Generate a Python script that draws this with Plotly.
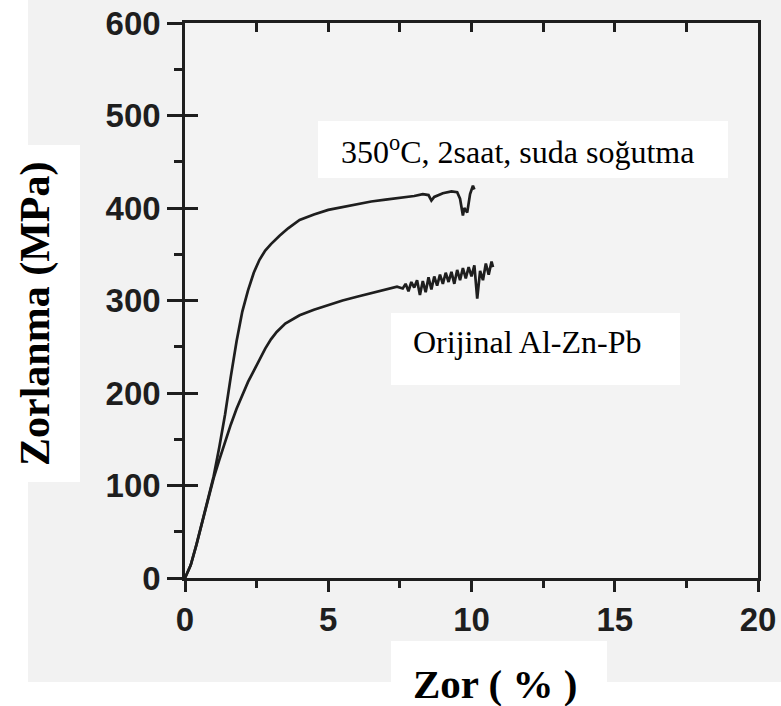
import plotly.graph_objects as go

# ---- data ----
strain_350 = [0, 0.2, 0.4, 0.6, 0.8, 1.0, 1.2, 1.4, 1.6, 1.8, 2.0, 2.2, 2.4, 2.6, 2.8, 3.0,
              3.3, 3.6, 4.0, 4.5, 5.0, 5.5, 6.0, 6.5, 7.0, 7.5, 8.0, 8.3, 8.5, 8.6, 8.7,
              9.0, 9.3, 9.5, 9.6, 9.7, 9.75, 9.85, 9.95, 10.05, 10.1]
stress_350 = [0, 14, 36, 60, 86, 110, 142, 177, 218, 256, 288, 311, 330, 344, 354, 361,
              370, 378, 387, 393, 398, 401, 404, 407, 409, 411, 413, 415, 414, 408, 412,
              416, 418, 417, 410, 392, 400, 395, 415, 424, 420]

strain_orig = [0, 0.2, 0.4, 0.6, 0.8, 1.0, 1.2, 1.4, 1.6, 1.8, 2.0, 2.2, 2.4, 2.6, 2.8, 3.0,
               3.2, 3.5, 4.0, 4.5, 5.0, 5.5, 6.0, 6.5, 7.0, 7.4, 7.6, 7.7, 7.8, 7.9, 8.0,
               8.1, 8.2, 8.3, 8.4, 8.5, 8.6, 8.7, 8.8, 8.9, 9.0, 9.1, 9.2, 9.3, 9.4, 9.5,
               9.6, 9.7, 9.8, 9.9, 10.0, 10.1, 10.2, 10.3, 10.4, 10.5, 10.6, 10.7, 10.75]
stress_orig = [0, 14, 36, 60, 86, 108, 128, 148, 166, 183, 198, 212, 224, 236, 248, 258,
               266, 275, 284, 290, 295, 300, 304, 308, 312, 315, 313, 318, 310, 320, 314,
               322, 306, 321, 309, 325, 312, 326, 316, 328, 318, 330, 320, 331, 318, 333,
               322, 335, 324, 336, 326, 338, 302, 332, 322, 340, 328, 342, 336]

label_350 = "350<sup>o</sup>C, 2saat, suda soğutma"
label_orig = "Orijinal Al-Zn-Pb"
x_title = "Zor ( % )"
y_title = "Zorlanma (MPa)"

# ---- layout geometry (pixels) ----
W, H = 781, 706
L, R, T, B = 185, 758, 23, 578
PW, PH = R - L, B - T


def px(x):
    return (x - L) / PW


def py(y):
    return (B - y) / PH


PAPER = "#f2f2f2"
PLOT = "#f3f3f3"
INK = "#1e1e1e"

fig = go.Figure()
fig.add_trace(go.Scatter(x=strain_350, y=stress_350, mode="lines",
                         line=dict(color=INK, width=2.7), showlegend=False))
# second series on overlay axes with identical ranges (these carry the inner tick marks)
fig.add_trace(go.Scatter(x=strain_orig, y=stress_orig, mode="lines", xaxis="x2", yaxis="y2",
                         line=dict(color=INK, width=2.7), showlegend=False))

tickfont = dict(family="Liberation Sans", size=33, color=INK, weight="bold")

shapes = []


def white_box(x0, y0, x1, y1):
    shapes.append(dict(type="rect", xref="paper", yref="paper",
                       x0=px(x0), x1=px(x1), y0=py(y1), y1=py(y0),
                       fillcolor="white", line=dict(width=0), layer="below"))


white_box(0, 0, 28, H)          # left strip
white_box(0, 682, W, H)         # bottom strip
white_box(0, 145, 80, 482)      # y-title box
white_box(391, 641, 607, H)     # x-title box
white_box(318, 121, 728, 178)   # label 1 box
white_box(391, 313, 680, 385)   # label 2 box

annotations = [
    dict(text=label_350, xref="paper", yref="paper", x=px(339), y=py(150),
         xanchor="left", yanchor="middle", showarrow=False,
         font=dict(family="Liberation Serif", size=32, color="black")),
    dict(text=label_orig, xref="paper", yref="paper", x=px(411), y=py(342),
         xanchor="left", yanchor="middle", showarrow=False,
         font=dict(family="Liberation Serif", size=32, color="black")),
    dict(text="<b>" + x_title + "</b>", xref="paper", yref="paper", x=px(495), y=py(684),
         xanchor="center", yanchor="middle", showarrow=False,
         font=dict(family="Liberation Serif", size=41, color="black")),
    dict(text="<b>" + y_title + "</b>", xref="paper", yref="paper", x=px(35), y=py(314),
         xanchor="center", yanchor="middle", showarrow=False, textangle=-90,
         font=dict(family="Liberation Serif", size=42, color="black")),
]

fig.update_layout(
    width=W, height=H,
    margin=dict(l=L, r=W - R, t=T, b=H - B, autoexpand=False),
    paper_bgcolor=PAPER, plot_bgcolor=PLOT,
    shapes=shapes, annotations=annotations,
    xaxis=dict(range=[0, 20], tick0=0, dtick=5, ticks="outside", ticklen=11, tickwidth=2.5,
               tickcolor=INK,
               minor=dict(dtick=2.5, tick0=0, ticks="outside", ticklen=7, tickwidth=2.5,
                          tickcolor=INK),
               showline=True, linewidth=2.6, linecolor=INK, mirror=True, showgrid=False,
               tickfont=tickfont),
    yaxis=dict(range=[0, 600], tick0=0, dtick=100, ticks="outside", ticklen=15, tickwidth=2.5,
               tickcolor=INK,
               minor=dict(dtick=50, tick0=0, ticks="outside", ticklen=8, tickwidth=2.5,
                          tickcolor=INK),
               showline=True, linewidth=2.6, linecolor=INK, mirror=True, showgrid=False,
               tickfont=tickfont),
    xaxis2=dict(range=[0, 20], overlaying="x", side="top", anchor="y2",
                dtick=2.5, tick0=0, ticks="inside", ticklen=9, tickwidth=2.5, tickcolor=INK,
                showticklabels=False, showgrid=False, zeroline=False, showline=False),
    yaxis2=dict(range=[0, 600], overlaying="y", side="left", anchor="x2",
                dtick=100, tick0=0, ticks="inside", ticklen=13, tickwidth=2.5, tickcolor=INK,
                showticklabels=False, showgrid=False, zeroline=False, showline=False),
)

fig.write_html("out.html")
